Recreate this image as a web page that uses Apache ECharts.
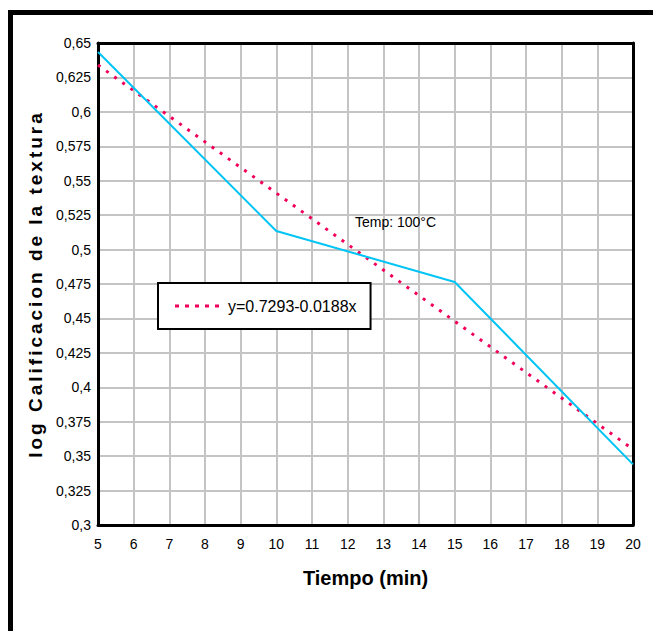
<!DOCTYPE html>
<html>
<head>
<meta charset="utf-8">
<script src="https://cdn.jsdelivr.net/npm/echarts@6/dist/echarts.min.js"></script>
<style>
  html, body { margin: 0; padding: 0; background: #fff; }
  #chart { width: 653px; height: 631px; }
</style>
</head>
<body>
<div id="chart"></div>
<script>
// measured points (tiempo, log calificacion)
var tiempo = [5, 10, 15, 20];
var logCalif = [0.6435, 0.5135, 0.4765, 0.344];
// regression line end points
var trendX = [5, 20];
var trendY = [0.634, 0.355];
var trendName = 'y=0.7293-0.0188x';
var tempLabel = 'Temp: 100\u00b0C';
var yTitle = 'log Calificacion de la textura';
var xTitle = 'Tiempo (min)';

var fontMain = '"Liberation Sans", Arial, sans-serif';

var chart = echarts.init(document.getElementById('chart'), null, { renderer: 'svg' });

function pairs(xs, ys) {
  return xs.map(function (x, i) { return [x, ys[i]]; });
}

var frameAxis = {
  axisLine: { show: true, lineStyle: { color: '#000', width: 3 } },
  axisTick: { show: false }, axisLabel: { show: false }, splitLine: { show: false }
};

chart.setOption({
  animation: false,
  backgroundColor: '#fff',
  grid: { left: 98, top: 43, width: 535, height: 482 },
  xAxis: [{
    type: 'value', min: 5, max: 20, interval: 1,
    name: xTitle, nameLocation: 'middle', nameGap: 43,
    nameTextStyle: { fontFamily: fontMain, fontWeight: 'bold', fontSize: 20, color: '#000' },
    axisLine: { show: true, lineStyle: { color: '#000', width: 3 } },
    axisTick: { show: false },
    axisLabel: { fontFamily: fontMain, fontSize: 14, color: '#000', margin: 12 },
    splitLine: { show: true, lineStyle: { color: '#c4c4c4', width: 2 } }
  }, Object.assign({ type: 'value', min: 5, max: 20, position: 'top' }, frameAxis)],
  yAxis: [{
    type: 'value', min: 0.3, max: 0.65, interval: 0.025,
    name: yTitle, nameLocation: 'middle', nameGap: 52,
    nameTextStyle: { fontFamily: fontMain, fontWeight: 'bold', fontSize: 19, color: '#000' },
    axisLine: { show: true, lineStyle: { color: '#000', width: 3 } },
    axisTick: { show: false },
    axisLabel: {
      fontFamily: fontMain, fontSize: 14, color: '#000', margin: 7,
      formatter: function (v) {
        return String(Math.round(v * 1000) / 1000).replace('.', ',');
      }
    },
    splitLine: { show: true, lineStyle: { color: '#c4c4c4', width: 2 } }
  }, Object.assign({ type: 'value', min: 0.3, max: 0.65, position: 'right' }, frameAxis)],
  legend: {
    data: [trendName],
    left: 158, top: 283,
    backgroundColor: '#fff',
    borderColor: '#000', borderWidth: 2, borderRadius: 0,
    padding: [15, 14, 15, 17],
    icon: 'path://M0,0h4v3h-4z M10,0h4v3h-4z M20,0h4v3h-4z M30,0h4v3h-4z M40,0h4v3h-4z',
    itemWidth: 44, itemHeight: 3, itemGap: 6,
    textStyle: { fontFamily: fontMain, fontSize: 16, color: '#000', padding: [0, 0, 0, 4] }
  },
  series: [
    {
      name: 'datos', type: 'line', data: pairs(tiempo, logCalif),
      symbol: 'none', lineStyle: { color: '#00c4f4', width: 2 }, z: 3
    },
    {
      name: trendName, type: 'line', data: pairs(trendX, trendY),
      symbol: 'none', itemStyle: { color: '#f0005a' },
      lineStyle: { color: '#f0005a', width: 3, type: [3, 7] }, z: 2,
      markPoint: {
        symbol: 'rect', symbolSize: 1,
        itemStyle: { color: 'transparent' },
        label: {
          show: true, formatter: tempLabel, position: 'right',
          fontFamily: fontMain, fontSize: 14, color: '#000'
        },
        data: [{ coord: [12.05, 0.52] }]
      }
    }
  ],
  graphic: [{
    type: 'rect', left: 8, top: 10,
    shape: { width: 660, height: 640 },
    style: { fill: 'none', stroke: '#000', lineWidth: 5 },
    silent: true
  }]
});

// the original axis title is letter-spaced
document.querySelectorAll('#chart text').forEach(function (t) {
  if (t.textContent === yTitle) t.style.letterSpacing = '3px';
});
</script>
</body>
</html>
